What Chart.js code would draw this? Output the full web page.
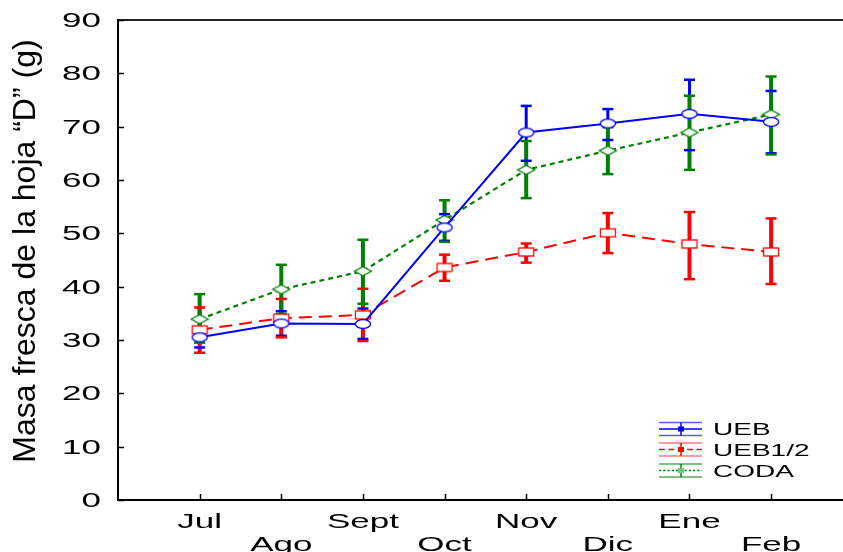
<!DOCTYPE html>
<html><head><meta charset="utf-8">
<script src="https://cdn.jsdelivr.net/npm/chart.js@4/dist/chart.umd.min.js"></script>
<style>html,body{margin:0;padding:0;background:#fff;overflow:hidden}canvas{display:block}</style>
</head><body>
<canvas id="c" width="843" height="552"></canvas>
<script>
// ---- data ----
const months = ['Jul','Ago','Sept','Oct','Nov','Dic','Ene','Feb'];
const yTickValues = [0,10,20,30,40,50,60,70,80,90];
const yTitle = 'Masa fresca de la hoja \u201CD\u201D (g)';
const seriesNames = ['UEB','UEB1/2','CODA'];

const uebMean = [30.5, 33.1, 33.0, 51.1, 68.9, 70.6, 72.4, 70.9];
const uebLo   = [28.6, 30.8, 30.2, 48.6, 63.6, 67.5, 65.6, 65.0];
const uebHi   = [32.3, 35.4, 35.9, 53.6, 73.9, 73.3, 78.8, 76.7];

const uebHalfMean = [31.9, 34.1, 34.7, 43.6, 46.5, 50.1, 48.0, 46.5];
const uebHalfLo   = [27.6, 30.5, 29.8, 41.1, 44.5, 46.3, 41.4, 40.5];
const uebHalfHi   = [36.1, 37.7, 39.6, 46.0, 48.1, 53.8, 54.0, 52.8];

const codaMean = [33.9, 39.5, 42.9, 52.5, 61.9, 65.5, 68.9, 72.3];
const codaLo   = [29.5, 34.9, 36.8, 48.4, 56.6, 61.1, 61.9, 64.8];
const codaHi   = [38.6, 44.1, 48.8, 56.2, 67.3, 69.9, 75.8, 79.4];

// ---- styling helpers ----
const BLUE = '#0000ff', RED = '#ff0000', GREEN = '#008000';
const FONT = '"Liberation Sans", Arial, sans-serif';
const STRETCH = 1.75;

function mk(w, h, draw) {
  const c = document.createElement('canvas');
  c.width = w; c.height = h;
  draw(c.getContext('2d'));
  return c;
}
const circleImg = mk(18, 12, g => {
  g.beginPath(); g.ellipse(9, 6, 7.6, 4.4, 0, 0, 2 * Math.PI);
  g.fillStyle = '#fff'; g.fill(); g.lineWidth = 1.3; g.strokeStyle = BLUE; g.stroke();
});
const rectImg = mk(18, 12, g => {
  g.fillStyle = '#fff'; g.fillRect(1.5, 2, 15, 8);
  g.lineWidth = 1.3; g.strokeStyle = RED; g.strokeRect(1.5, 2, 15, 8);
});
const diamondImg = mk(20, 12, g => {
  g.beginPath(); g.moveTo(10, 1.5); g.lineTo(18.5, 6); g.lineTo(10, 10.5); g.lineTo(1.5, 6); g.closePath();
  g.fillStyle = '#fff'; g.fill(); g.lineWidth = 1.3; g.strokeStyle = GREEN; g.stroke();
});

const toPts = arr => arr.map((v, i) => ({ x: i + 1, y: v }));

const errSets = [
  { lo: uebLo, hi: uebHi, color: BLUE, width: 3 },
  { lo: uebHalfLo, hi: uebHalfHi, color: RED, width: 4 },
  { lo: codaLo, hi: codaHi, color: GREEN, width: 4 }
];

function stretchedText(ctx, text, x, y, align, size) {
  ctx.save();
  ctx.font = size + 'px ' + FONT;
  ctx.textAlign = align;
  ctx.textBaseline = 'alphabetic';
  ctx.translate(x, y);
  ctx.scale(STRETCH, 1);
  ctx.fillText(text, 0, 0);
  ctx.restore();
}

const decor = {
  id: 'decor',
  beforeDatasetsDraw(chart) {
    const { ctx, chartArea: a, scales: { x, y } } = chart;
    ctx.save();
    // top frame line and bottom axis extension to the canvas edge
    ctx.strokeStyle = '#222'; ctx.lineWidth = 2;
    ctx.beginPath(); ctx.moveTo(a.left, a.top); ctx.lineTo(chart.width, a.top); ctx.stroke();
    ctx.strokeStyle = '#000';
    ctx.beginPath(); ctx.moveTo(a.left, a.bottom); ctx.lineTo(chart.width, a.bottom); ctx.stroke();
    // inner ticks
    ctx.strokeStyle = '#000'; ctx.lineWidth = 1.5;
    yTickValues.forEach(v => {
      const py = Math.round(y.getPixelForValue(v)) + 0.5;
      ctx.beginPath(); ctx.moveTo(a.left, py); ctx.lineTo(a.left + 6, py); ctx.stroke();
    });
    months.forEach((m, i) => {
      const px = Math.round(x.getPixelForValue(i + 1)) + 0.5;
      ctx.beginPath(); ctx.moveTo(px, a.bottom); ctx.lineTo(px, a.bottom - 6); ctx.stroke();
    });
    // error bars
    errSets.forEach(s => {
      ctx.strokeStyle = s.color; ctx.lineWidth = s.width;
      s.lo.forEach((lo, i) => {
        const px = x.getPixelForValue(i + 1);
        ctx.beginPath(); ctx.moveTo(px, y.getPixelForValue(lo)); ctx.lineTo(px, y.getPixelForValue(s.hi[i])); ctx.stroke();
      });
    });
    errSets.forEach(s => {
      ctx.strokeStyle = s.color; ctx.lineWidth = 2.5;
      s.lo.forEach((lo, i) => {
        const px = x.getPixelForValue(i + 1);
        [lo, s.hi[i]].forEach(v => {
          const py = y.getPixelForValue(v);
          ctx.beginPath(); ctx.moveTo(px - 5.5, py); ctx.lineTo(px + 5.5, py); ctx.stroke();
        });
      });
    });
    ctx.restore();
  },
  afterDraw(chart) {
    const { ctx, chartArea: a, scales: { x, y } } = chart;
    ctx.save();
    ctx.fillStyle = '#000';
    // y tick labels
    yTickValues.forEach(v => {
      stretchedText(ctx, String(v), 101, y.getPixelForValue(v) + 7, 'right', 20);
    });
    // x tick labels, alternating rows
    months.forEach((m, i) => {
      const px = x.getPixelForValue(i + 1);
      stretchedText(ctx, m, px, i % 2 === 0 ? 528 : 550.5, 'center', 20);
    });
    // y title
    ctx.save();
    ctx.font = '32px ' + FONT;
    ctx.textAlign = 'center'; ctx.textBaseline = 'alphabetic';
    ctx.translate(35, 251); ctx.rotate(-Math.PI / 2);
    ctx.fillText(yTitle, 0, 0);
    ctx.restore();
    // legend
    const light = ['#5a5aff', '#ff7a7a', '#5aaa5a'];
    const rows = [429, 449.5, 470.5];
    chart.data.datasets.forEach((ds, i) => {
      const yc = rows[i], x0 = 659, x1 = 702, xm = 681;
      ctx.lineWidth = 1.5; ctx.strokeStyle = light[i]; ctx.setLineDash([]);
      ctx.beginPath(); ctx.moveTo(x0, yc - 6.5); ctx.lineTo(x1, yc - 6.5); ctx.stroke();
      ctx.beginPath(); ctx.moveTo(x0, yc + 6.5); ctx.lineTo(x1, yc + 6.5); ctx.stroke();
      ctx.strokeStyle = ds.borderColor; ctx.lineWidth = 1.5;
      ctx.setLineDash(ds.borderDash && ds.borderDash.length ? [ds.borderDash[0] * 0.45, ds.borderDash[1] * 0.5] : []);
      ctx.beginPath(); ctx.moveTo(x0, yc); ctx.lineTo(x1, yc); ctx.stroke();
      ctx.setLineDash([]);
      ctx.lineWidth = 1.5; ctx.strokeStyle = ds.borderColor;
      ctx.beginPath(); ctx.moveTo(xm, yc - 6.5); ctx.lineTo(xm, yc + 6.5); ctx.stroke();
      ctx.fillStyle = i === 2 ? '#7fbf7f' : ds.borderColor;
      ctx.fillRect(xm - 3, yc - 2.5, 6, 5);
      ctx.fillStyle = '#000';
      stretchedText(ctx, ds.label, 713, yc + 6, 'left', 16);
    });
    ctx.restore();
  }
};

new Chart(document.getElementById('c'), {
  type: 'line',
  data: {
    datasets: [
      { label: seriesNames[0], data: toPts(uebMean), borderColor: BLUE, borderWidth: 2,
        pointStyle: circleImg, pointRadius: 6, fill: false, tension: 0 },
      { label: seriesNames[1], data: toPts(uebHalfMean), borderColor: RED, borderWidth: 2, borderDash: [13, 7],
        pointStyle: rectImg, pointRadius: 6, fill: false, tension: 0 },
      { label: seriesNames[2], data: toPts(codaMean), borderColor: GREEN, borderWidth: 2.2, borderDash: [5, 4],
        pointStyle: diamondImg, pointRadius: 6, fill: false, tension: 0 }
    ]
  },
  options: {
    responsive: false,
    animation: false,
    devicePixelRatio: 1,
    layout: { padding: { left: 118, top: 20, right: 0, bottom: 52 } },
    plugins: { legend: { display: false }, tooltip: { enabled: false } },
    scales: {
      x: { type: 'linear', min: 0, max: 8.78,
           ticks: { display: false }, grid: { display: false, drawTicks: false },
           border: { display: true, color: '#000', width: 2 } },
      y: { type: 'linear', min: 0, max: 90,
           ticks: { display: false, stepSize: 10 }, grid: { display: false, drawTicks: false },
           border: { display: true, color: '#000', width: 2 },
           title: { display: false, text: yTitle } }
    }
  },
  plugins: [decor]
});
</script>
</body></html>
